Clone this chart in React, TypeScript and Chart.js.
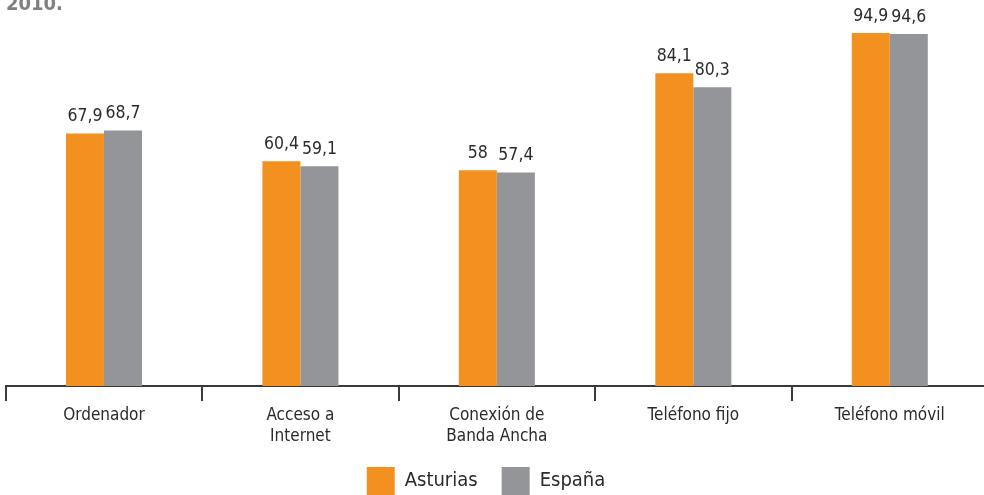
import React, { useEffect, useRef } from "react";
import { Chart, registerables } from "chart.js";

Chart.register(...registerables);

const categories: string[][] = [
  ["Ordenador"],
  ["Acceso a", "Internet"],
  ["Conexión de", "Banda Ancha"],
  ["Teléfono fijo"],
  ["Teléfono móvil"],
];
const asturias = [67.9, 60.4, 58, 84.1, 94.9];
const espana = [68.7, 59.1, 57.4, 80.3, 94.6];
const seriesNames = ["Asturias", "España"];
const titleText = "2010.";

const ORANGE = "#F39120";
const GRAY = "#939598";
const TEXT = "#2b2b2b";
const FONT = "'DejaVu Sans Condensed', 'Liberation Sans', Arial, sans-serif";

const CANVAS_LEFT = -16;
const CANVAS_W = 1004;
const CANVAS_H = 505;

const fmt = (v: number) => String(v).replace(".", ",");

export default function App() {
  const ref = useRef<HTMLCanvasElement | null>(null);

  useEffect(() => {
    const canvas = ref.current;
    if (!canvas) return;

    const labelPlugin = {
      id: "valueLabels",
      afterDatasetsDraw(chart: any) {
        const ctx = chart.ctx;
        ctx.save();
        ctx.font = `17.5px ${FONT}`;
        ctx.fillStyle = TEXT;
        ctx.textAlign = "center";
        ctx.textBaseline = "alphabetic";
        chart.data.datasets.forEach((ds: any, i: number) => {
          const meta = chart.getDatasetMeta(i);
          meta.data.forEach((bar: any, j: number) => {
            ctx.fillText(fmt(ds.data[j]), bar.x, bar.y - 12);
          });
        });
        ctx.restore();
      },
    };

    const titlePlugin = {
      id: "cutTitle",
      afterDraw(chart: any) {
        const ctx = chart.ctx;
        ctx.save();
        ctx.font = `bold 20px ${FONT}`;
        ctx.fillStyle = "#808080";
        ctx.textAlign = "left";
        ctx.textBaseline = "alphabetic";
        ctx.fillText(titleText, 6 - CANVAS_LEFT, 10);
        ctx.restore();
      },
    };

    const chart = new Chart(canvas, {
      type: "bar",
      data: {
        labels: categories,
        datasets: [
          {
            label: seriesNames[0],
            data: asturias,
            backgroundColor: ORANGE,
            borderWidth: 0,
            barPercentage: 1,
            categoryPercentage: 0.387,
          },
          {
            label: seriesNames[1],
            data: espana,
            backgroundColor: GRAY,
            borderWidth: 0,
            barPercentage: 1,
            categoryPercentage: 0.387,
          },
        ],
      },
      options: {
        responsive: false,
        animation: false,
        devicePixelRatio: 1,
        layout: { padding: { top: 14, left: 0, right: 0, bottom: 0 } },
        plugins: {
          legend: {
            position: "bottom",
            labels: {
              boxWidth: 28,
              boxHeight: 28,
              padding: 24,
              color: TEXT,
              font: { family: FONT, size: 20 },
            },
          },
          tooltip: { enabled: false },
          title: { display: false },
        },
        scales: {
          x: {
            grid: {
              display: true,
              drawOnChartArea: false,
              drawTicks: true,
              tickLength: 15,
              lineWidth: 2,
              color: "#3a3a3a",
              offset: true,
            },
            border: { display: true, color: "#3a3a3a", width: 2 },
            ticks: {
              color: TEXT,
              padding: 5,
              maxRotation: 0,
              autoSkip: false,
              font: { family: FONT, size: 17, lineHeight: 1.18 },
            },
            afterFit: (s: any) => {
              s.height = 57;
            },
          },
          y: {
            display: true,
            min: 0,
            max: 100,
            grid: { display: false },
            border: { display: false },
            ticks: { display: false },
            afterFit: (s: any) => {
              s.width = 21.75;
            },
          },
        },
      },
      plugins: [labelPlugin, titlePlugin],
    });

    return () => chart.destroy();
  }, []);

  return (
    <div
      style={{
        position: "fixed",
        left: 0,
        top: 0,
        width: "100vw",
        height: "100vh",
        overflow: "hidden",
        background: "#ffffff",
      }}
    >
      <canvas
        ref={ref}
        width={CANVAS_W}
        height={CANVAS_H}
        style={{
          position: "absolute",
          left: CANVAS_LEFT,
          top: 0,
          width: CANVAS_W,
          height: CANVAS_H,
        }}
      />
    </div>
  );
}
